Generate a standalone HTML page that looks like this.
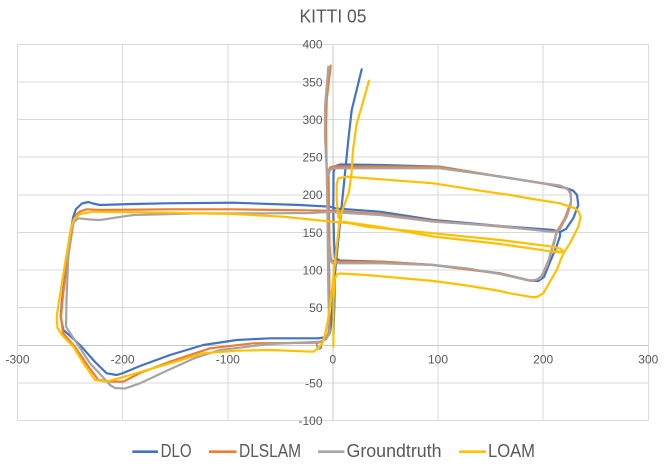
<!DOCTYPE html>
<html>
<head>
<meta charset="utf-8">
<style>
  html, body { margin: 0; padding: 0; background: #ffffff; }
  svg { display: block; }
  text { font-family: "Liberation Sans", "DejaVu Sans", sans-serif; fill: #595959; }
</style>
</head>
<body>
<svg width="667" height="468" viewBox="0 0 667 468" xmlns="http://www.w3.org/2000/svg">
  <rect x="0" y="0" width="667" height="468" fill="#ffffff"/>

  <!-- Title -->
  <text x="333" y="22.7" font-size="18" text-anchor="middle" textLength="67" lengthAdjust="spacingAndGlyphs">KITTI 05</text>

  <!-- Gridlines -->
  <g stroke="#D9D9D9" stroke-width="1" fill="none" shape-rendering="crispEdges">
    <line x1="17.5" y1="44.3" x2="17.5" y2="420.7"/>
    <line x1="122.6" y1="44.3" x2="122.6" y2="420.7"/>
    <line x1="227.8" y1="44.3" x2="227.8" y2="420.7"/>
    <line x1="438" y1="44.3" x2="438" y2="420.7"/>
    <line x1="543.2" y1="44.3" x2="543.2" y2="420.7"/>
    <line x1="648.3" y1="44.3" x2="648.3" y2="420.7"/>
    <line x1="17.5" y1="44.3" x2="648.3" y2="44.3"/>
    <line x1="17.5" y1="82" x2="648.3" y2="82"/>
    <line x1="17.5" y1="119.6" x2="648.3" y2="119.6"/>
    <line x1="17.5" y1="157.2" x2="648.3" y2="157.2"/>
    <line x1="17.5" y1="194.8" x2="648.3" y2="194.8"/>
    <line x1="17.5" y1="232.5" x2="648.3" y2="232.5"/>
    <line x1="17.5" y1="270.1" x2="648.3" y2="270.1"/>
    <line x1="17.5" y1="307.7" x2="648.3" y2="307.7"/>
    <line x1="17.5" y1="383" x2="648.3" y2="383"/>
    <line x1="17.5" y1="420.7" x2="648.3" y2="420.7"/>
  </g>
  <!-- Axes -->
  <g stroke="#C8C8C8" stroke-width="1" fill="none" shape-rendering="crispEdges">
    <line x1="17.5" y1="345.4" x2="648.3" y2="345.4"/>
    <line x1="332.9" y1="44.3" x2="332.9" y2="420.7"/>
  </g>

  <!-- Y tick labels -->
  <g font-size="12" text-anchor="end">
    <text x="322.5" y="48.6">400</text>
    <text x="322.5" y="86.3">350</text>
    <text x="322.5" y="123.9">300</text>
    <text x="322.5" y="161.5">250</text>
    <text x="322.5" y="199.1">200</text>
    <text x="322.5" y="236.8">150</text>
    <text x="322.5" y="274.4">100</text>
    <text x="322.5" y="312">50</text>
    <text x="322.5" y="349.7">0</text>
    <text x="322.5" y="387.3">-50</text>
    <text x="322.5" y="425">-100</text>
  </g>
  <!-- X tick labels -->
  <g font-size="12" text-anchor="middle">
    <text x="17.5" y="363.5">-300</text>
    <text x="122.6" y="363.5">-200</text>
    <text x="227.8" y="363.5">-100</text>
    <text x="332.9" y="363.5">0</text>
    <text x="438" y="363.5">100</text>
    <text x="543.2" y="363.5">200</text>
    <text x="648.3" y="363.5">300</text>
  </g>

  <!-- Series -->
  <g fill="none" stroke-width="2.2" stroke-linecap="round" stroke-linejoin="round">
    <!-- DLO -->
    <g stroke="#4472C4">
      <path d="M361.7,69.3 L358.3,83.3 L351.7,110 L348.3,140 L345,173.3 L343.3,190 L339.5,228 L335.5,268 L332.5,305 L331,325 L330,333 L327,337 L318.3,338.3 L300,338.3 L270,338.3 L236.7,340 L203.3,345 L170,355 L140,366 L122,373.5 L116.7,375 L106.7,373.3 L95,362 L80,345 L68,334 L63.3,330 L60.7,316.7 L62,300 L66,268 L70,235 L73.3,216.7 L76,209 L82,203.5 L88.3,202 L93,203.5 L100,205 L133,204 L166.7,203.3 L233.3,202.7 L300,205 L330,206.7 L336,208.5 L380,211.7 L433.3,220 L500,226 L553.3,230 L560,232 L566,229 L573.3,218.3 L578.3,205 L577,195 L573,190.5 L566.7,188.3 L543.3,183.3 L500,176.7 L440,166.7 L380,165 L340,164.5 L335.5,166 L333.5,172 L333.3,211.7 L334,240 L335,258 L340,260.5 L383.3,261.7 L433.3,265 L500,273.3 L530,280.7 L538.3,281 L544,277 L550,262 L556.7,246 L560,236 L560,232"/>
      <path d="M335,260 L334.5,300 L333.5,335"/>
    </g>
    <!-- DLSLAM -->
    <g stroke="#ED7D31">
      <path d="M330.7,65.7 L326.7,100 L326,126.7 L326.5,160 L328,200 L328.8,240 L329.3,280 L329.5,320 L328.5,333 L325,339.5 L318.3,342.7 L290,343 L253.3,343.3 L210,348.3 L170,361.7 L140,373 L123.3,381.7 L110,381.5 L98.3,380 L88,366 L75,347 L63,333 L61,316.7 L63,295 L68,258 L73,225 L76,215 L80,211.5 L86.7,209.3 L100,210 L166.7,209.3 L233.3,209.3 L330,210.7 L380,214 L433.3,221 L500,226.5 L553.3,231.7 L558,230 L565,218 L571,202 L570.5,192 L566,188 L560,186 L543.3,183.5 L500,176.5 L440,167 L380,166.5 L333,166.5 L330,167.5 L328.5,172 L329,211.7"/>
      <path d="M329,211.7 L329.5,245 L331,260.5 L340,261.5 L383.3,262 L433.3,265 L500,273.5 L530,280.5 L536,280 L542,276 L549,259 L555,240 L556,233"/>
    </g>
    <!-- Groundtruth -->
    <g stroke="#A5A5A5">
      <path d="M328.3,66.7 L325,106.7 L325,136.7 L326.7,170 L327.5,220 L328.3,290 L329,320 L329.8,333 L326,339.5 L320,341.7 L270,344 L220,350 L195,358 L170,369.3 L140,383.3 L125,388.5 L115,388 L110,385 L100,374 L90,363.3 L78,345 L66,326.7 L66.5,300 L68.3,256.7 L71,232 L74,222 L78.3,218.3 L90,219.5 L100,220 L133.3,215 L200,213.3 L266.7,213.3 L310,213 L330,212 L380,215 L433.3,221.7 L500,226 L550,231.7 L556.7,231.7 L560,229 L566.7,216.7 L571,204 L571,195 L568,189.5 L560,185.5 L543.3,183.3 L500,176.5 L440,168.3 L380,168.3 L333.3,168.3 L330,170 L328.5,175"/>
      <path d="M328.5,240 L330,260 L333.3,263.3 L380,263.3 L433.3,265 L466.7,268.3 L500,274 L526.7,280 L533.3,280.7 L540,278.3 L546.7,266.7 L553.3,243.3 L556.7,233"/>
    </g>
    <!-- LOAM -->
    <g stroke="#FFC000">
      <path d="M369,80.7 L361.7,106.7 L356.7,123.3 L353,150 L351.5,173 L349,192 L340,217 L332,290 L328,320 L325,335 L322,344 L318,348.3 L313.3,351.7 L270,350 L236.7,350.7 L203.3,353.3 L170,363.3 L130,375 L106.7,381.7 L95,380 L84,364 L73.3,346.7 L62,335 L57.5,328 L56.7,316.7 L60,295 L66,258 L71,228 L74,219 L80,214 L93.3,211.7 L166.7,212.7 L233.3,214 L283.3,216.7 L310,219.5 L350,223.3 L366.7,226.7 L433.3,233.3 L500,240 L553.3,246.7 L560,248.5 L563,251 L560,252.5 L553,251.5"/>
      <path d="M338.3,216.7 L341,221.5 L380,227 L433.3,236.5 L500,244 L553.3,251.7 L558,251"/>
      <path d="M338.3,216.7 L336.7,200 L336.7,184 L338.3,178.3 L346.7,176.7 L433.3,183.3 L486.7,191.7 L510,195 L533,199 L560,203.3 L575,208.3 L579,212 L580.5,218 L578.3,226.7 L570,243.3 L563.3,253.3 L556.7,270 L543.3,293.3 L537,297 L533.3,297.3 L510,293.3 L500,291 L466.7,285.5 L433.3,281 L366.7,275 L340,273.5 L336.7,274.5 L334.5,280 L333.5,300 L333.3,346.7"/>
    </g>
  </g>

  <!-- Legend -->
  <g stroke-width="2.6" stroke-linecap="butt">
    <line x1="132.3" y1="451.7" x2="158" y2="451.7" stroke="#4472C4"/>
    <line x1="209" y1="451.7" x2="236.5" y2="451.7" stroke="#ED7D31"/>
    <line x1="318" y1="451.7" x2="344.4" y2="451.7" stroke="#A5A5A5"/>
    <line x1="459" y1="451.7" x2="486" y2="451.7" stroke="#FFC000"/>
  </g>
  <g font-size="18">
    <text x="160.6" y="457" textLength="31" lengthAdjust="spacingAndGlyphs">DLO</text>
    <text x="239" y="457" textLength="62" lengthAdjust="spacingAndGlyphs">DLSLAM</text>
    <text x="346.5" y="457" textLength="95" lengthAdjust="spacingAndGlyphs">Groundtruth</text>
    <text x="488" y="457" textLength="47" lengthAdjust="spacingAndGlyphs">LOAM</text>
  </g>
</svg>
</body>
</html>
